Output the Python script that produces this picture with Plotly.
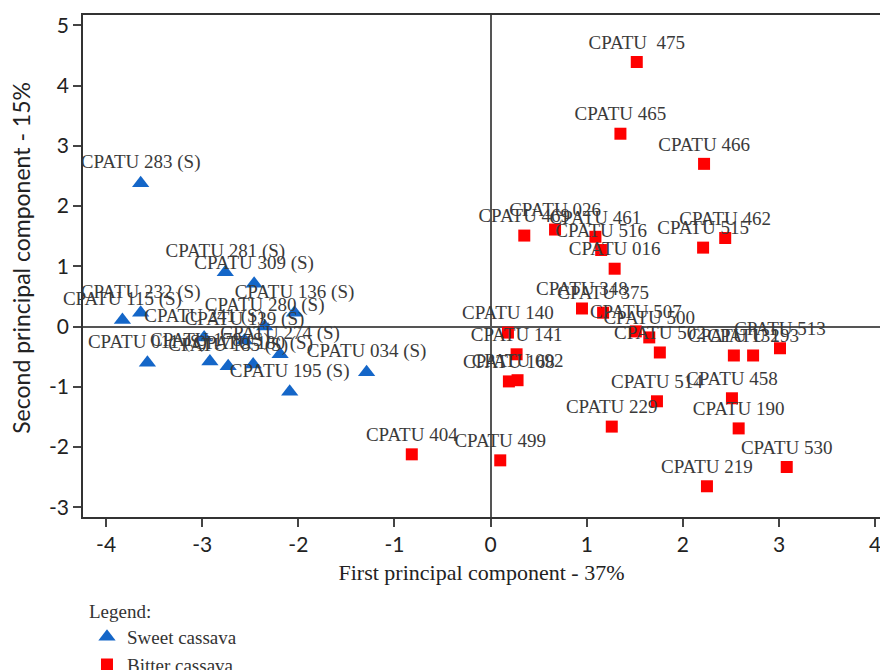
import plotly.graph_objects as go

# ---- data ----
sweet_labels = [
    "CPATU 283 (S)", "CPATU 281 (S)", "CPATU 309 (S)", "CPATU 136 (S)",
    "CPATU 232 (S)", "CPATU 115 (S)", "CPATU 280 (S)", "CPATU 241 (S)",
    "CPATU 139 (S)", "CPATU 274 (S)", "CPATU 011 (S)", "CPATU 178 (S)",
    "CPATU 185 (S)", "CPATU 180 (S)", "CPATU 195 (S)", "CPATU 034 (S)",
]
sweet_x = [-3.64, -2.76, -2.46, -2.04, -3.64, -3.83, -2.35, -2.98,
           -2.56, -2.19, -3.57, -2.92, -2.73, -2.47, -2.09, -1.29]
sweet_y = [2.38, 0.90, 0.71, 0.23, 0.23, 0.11, 0.00, -0.18,
           -0.23, -0.46, -0.60, -0.58, -0.66, -0.63, -1.08, -0.76]

bitter_labels = [
    "CPATU  475", "CPATU 465", "CPATU 466", "CPATU 469", "CPATU 026",
    "CPATU 461", "CPATU 516", "CPATU 016", "CPATU 515", "CPATU 462",
    "CPATU 348", "CPATU 375", "CPATU 140", "CPATU 507", "CPATU 500",
    "CPATU 502", "CPATU 132", "CPATU 193", "CPATU 513", "CPATU 141",
    "CPATU 168", "CPATU 092", "CPATU 404", "CPATU 499", "CPATU 229",
    "CPATU 514", "CPATU 458", "CPATU 190", "CPATU 530", "CPATU 219",
]
bitter_x = [1.52, 1.35, 2.22, 0.35, 0.67, 1.09, 1.15, 1.29, 2.21, 2.44,
            0.95, 1.17, 0.18, 1.51, 1.65, 1.76, 2.53, 2.73, 3.01, 0.27,
            0.19, 0.28, -0.82, 0.10, 1.26, 1.73, 2.51, 2.58, 3.08, 2.25]
bitter_y = [4.39, 3.20, 2.70, 1.51, 1.61, 1.49, 1.27, 0.96, 1.31, 1.47,
            0.30, 0.23, -0.10, -0.08, -0.18, -0.43, -0.48, -0.48, -0.36, -0.46,
            -0.91, -0.89, -2.12, -2.22, -1.66, -1.24, -1.19, -1.69, -2.33, -2.65]

x_ticks = [-4, -3, -2, -1, 0, 1, 2, 3, 4]
x_tick_text = ["-4", "-3", "-2", "-1", "0", "1", "2", "3", "4"]
y_ticks = [-3, -2, -1, 0, 1, 2, 3, 4, 5]
y_tick_text = ["-3", "-2", "-1", "0", "1", "2", "3", "4", "5"]

serif = "Liberation Serif, Times New Roman, serif"
sans = "Lato, DejaVu Sans, sans-serif"
label_font = dict(family=serif, size=19, color="#3a3a3a")
tick_font = dict(family=sans, size=21, color="#222222")

fig = go.Figure()
fig.add_trace(go.Scatter(
    x=sweet_x, y=sweet_y, text=sweet_labels, mode="markers+text",
    textposition="top center", textfont=label_font, cliponaxis=False,
    marker=dict(symbol="triangle-up", size=15, color="#1466c8"),
    name="Sweet cassava",
))
fig.add_trace(go.Scatter(
    x=bitter_x, y=bitter_y, text=bitter_labels, mode="markers+text",
    textposition="top center", textfont=label_font, cliponaxis=False,
    marker=dict(symbol="square", size=12, color="#ff0000"),
    name="Bitter cassava",
))

axis_common = dict(
    showgrid=False, zeroline=True, zerolinecolor="#555555", zerolinewidth=1.5,
    showline=True, linecolor="#333333", linewidth=1.5, mirror=True,
    ticks="outside", ticklen=8, tickwidth=1.5, tickcolor="#444444",
    tickfont=tick_font, automargin=False, ticklabeloverflow="allow",
)

fig.update_layout(
    width=880, height=670,
    margin=dict(l=83, r=0, t=15, b=153, autoexpand=False),
    paper_bgcolor="white", plot_bgcolor="white",
    xaxis=dict(range=[-4.24, 4.05], tickvals=x_ticks, ticktext=x_tick_text,
               title=dict(text="First principal component - 37%",
                          font=dict(family=serif, size=22, color="#222222"),
                          standoff=10),
               **axis_common),
    yaxis=dict(range=[-3.16, 5.17], tickvals=y_ticks, ticktext=y_tick_text,
               **axis_common),
    annotations=[dict(
        text="Second principal component - 15%",
        xref="paper", yref="paper", x=-0.078, y=0.516,
        xanchor="center", yanchor="middle", textangle=-90, showarrow=False,
        font=dict(family=sans, size=23, color="#222222"),
    )],
    showlegend=True,
    legend=dict(
        title=dict(text="Legend:", font=dict(family=serif, size=19, color="#333333")),
        font=dict(family=serif, size=19, color="#333333"),
        x=0.005, xanchor="left", y=-0.152, yanchor="top",
        bgcolor="rgba(0,0,0,0)", borderwidth=0,
    ),
)

fig.write_html("out.html", config={"displayModeBar": False},
               post_script="document.body.style.margin='0';")
